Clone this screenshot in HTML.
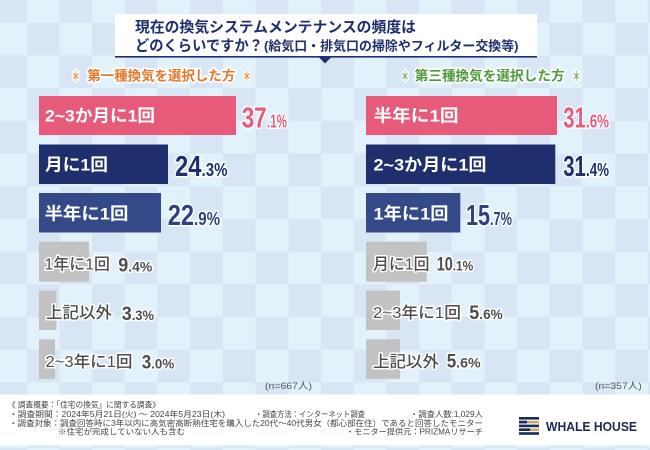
<!DOCTYPE html>
<html lang="ja">
<head>
<meta charset="utf-8">
<style>
html,body{margin:0;padding:0;background:#e1f2fb;}
svg{display:block;}
.t{font-family:"Liberation Sans","Noto Sans CJK JP",sans-serif;}
.o{paint-order:stroke;stroke:#fff;stroke-linejoin:round;}
</style>
</head>
<body>
<svg width="650" height="450" viewBox="0 0 650 450" xmlns="http://www.w3.org/2000/svg">
<defs>
<pattern id="ck" x="26.7" y="22.7" width="65.4" height="65.4" patternUnits="userSpaceOnUse">
<rect width="65.4" height="65.4" fill="#e1f2fb"/>
<rect width="32.7" height="32.7" fill="#d8e5f5"/>
<rect x="32.7" y="32.7" width="32.7" height="32.7" fill="#d8e5f5"/>
</pattern>
</defs>
<rect width="650" height="450" fill="url(#ck)"/>

<!-- Title box -->
<rect x="115" y="14" width="422" height="43" fill="#ffffff"/>
<rect x="115" y="56" width="422" height="1.6" fill="#1f2f6e"/>
<polygon points="318.5,57 331.5,57 325,63.5" fill="#1f2f6e"/>
<text class="t" x="135" y="32" font-size="14.8" font-weight="600" fill="#1f2f6e" textLength="281" lengthAdjust="spacingAndGlyphs">現在の換気システムメンテナンスの頻度は</text>
<text class="t" x="135" y="50.5" font-size="14.8" font-weight="600" fill="#1f2f6e" textLength="128" lengthAdjust="spacingAndGlyphs">どのくらいですか？</text>
<text class="t" x="264" y="50.5" font-size="13" font-weight="600" fill="#1f2f6e" textLength="254.5" lengthAdjust="spacingAndGlyphs">(給気口・排気口の掃除やフィルター交換等)</text>

<!-- Subheadings -->
<g class="t o" font-weight="bold" stroke-width="3.5">
<text x="71.5" y="81.5" font-size="14" fill="#ee9046" textLength="8.5" lengthAdjust="spacingAndGlyphs">＊</text>
<text x="87.3" y="80.5" font-size="13.5" fill="#e8772a" textLength="148" lengthAdjust="spacingAndGlyphs">第一種換気を選択した方</text>
<text x="243" y="81.5" font-size="14" fill="#ee9046" textLength="8" lengthAdjust="spacingAndGlyphs">＊</text>
<text x="401" y="81.5" font-size="14" fill="#78b25a" textLength="8" lengthAdjust="spacingAndGlyphs">＊</text>
<text x="414.6" y="80.5" font-size="13.5" fill="#4f9a3c" textLength="150" lengthAdjust="spacingAndGlyphs">第三種換気を選択した方</text>
<text x="572.5" y="81.5" font-size="14" fill="#78b25a" textLength="8" lengthAdjust="spacingAndGlyphs">＊</text>
</g>

<!-- Left bars -->
<rect x="39" y="96" width="197" height="39" fill="#e65b7a"/>
<rect x="39" y="144.5" width="129" height="39.5" fill="#1f2f6e"/>
<rect x="39" y="193" width="122" height="39.5" fill="#344a88"/>
<rect x="39" y="241.7" width="50" height="40" fill="#c2c2c2"/>
<rect x="39" y="290.5" width="17.5" height="39.5" fill="#c2c2c2"/>
<rect x="39" y="339.3" width="16" height="39.5" fill="#c2c2c2"/>

<!-- Right bars -->
<rect x="366" y="96" width="191" height="39" fill="#e65b7a"/>
<rect x="366" y="144.5" width="189.3" height="39.5" fill="#1f2f6e"/>
<rect x="366" y="193" width="94.3" height="39.5" fill="#344a88"/>
<rect x="366" y="241.7" width="60.7" height="40" fill="#c2c2c2"/>
<rect x="366" y="290.5" width="34" height="39.5" fill="#c2c2c2"/>
<rect x="366" y="339.3" width="34" height="39.5" fill="#c2c2c2"/>

<!-- In-bar labels (white) -->
<g class="t" font-size="17" font-weight="bold" fill="#ffffff">
<text x="45" y="121.5" textLength="110" lengthAdjust="spacingAndGlyphs">2~3か月に1回</text>
<text x="45" y="170.5" textLength="63" lengthAdjust="spacingAndGlyphs">月に1回</text>
<text x="44.5" y="219.5" textLength="84" lengthAdjust="spacingAndGlyphs">半年に1回</text>
<text x="373.5" y="121.5" textLength="85" lengthAdjust="spacingAndGlyphs">半年に1回</text>
<text x="373.5" y="170.5" textLength="113" lengthAdjust="spacingAndGlyphs">2~3か月に1回</text>
<text x="373.5" y="219.5" textLength="75" lengthAdjust="spacingAndGlyphs">1年に1回</text>
</g>

<!-- Gray labels -->
<g class="t o" font-size="16" font-weight="500" fill="#4d4d4d" stroke-width="3">
<text x="44.5" y="269.5" textLength="65.5" lengthAdjust="spacingAndGlyphs">1年に1回</text>
<text x="46" y="318" textLength="66" lengthAdjust="spacingAndGlyphs">上記以外</text>
<text x="45.5" y="367" textLength="87" lengthAdjust="spacingAndGlyphs">2~3年に1回</text>
<text x="373" y="269.5" textLength="56.5" lengthAdjust="spacingAndGlyphs">月に1回</text>
<text x="373" y="318" textLength="88" lengthAdjust="spacingAndGlyphs">2~3年に1回</text>
<text x="373" y="367" textLength="66" lengthAdjust="spacingAndGlyphs">上記以外</text>
</g>

<!-- Big percentages -->
<g class="t o" font-weight="bold" stroke-width="3">
<text x="241.7" y="127.3" font-size="29" fill="#e65b7a" textLength="25" lengthAdjust="spacingAndGlyphs">37</text>
<text x="267" y="127.3" font-size="18.5" fill="#e65b7a" textLength="20" lengthAdjust="spacingAndGlyphs">.1%</text>
<text x="175" y="176" font-size="29" fill="#1f2f6e" textLength="26.5" lengthAdjust="spacingAndGlyphs">24</text>
<text x="201.5" y="176" font-size="18.5" fill="#1f2f6e" textLength="26" lengthAdjust="spacingAndGlyphs">.3%</text>
<text x="167.7" y="225" font-size="29" fill="#2e4282" textLength="26.3" lengthAdjust="spacingAndGlyphs">22</text>
<text x="194" y="225" font-size="18.5" fill="#2e4282" textLength="26" lengthAdjust="spacingAndGlyphs">.9%</text>

<text x="563.3" y="127.3" font-size="29" fill="#e65b7a" textLength="22.5" lengthAdjust="spacingAndGlyphs">31</text>
<text x="586" y="127.3" font-size="18.5" fill="#e65b7a" textLength="23" lengthAdjust="spacingAndGlyphs">.6%</text>
<text x="563.3" y="176" font-size="29" fill="#1f2f6e" textLength="22.5" lengthAdjust="spacingAndGlyphs">31</text>
<text x="586" y="176" font-size="18.5" fill="#1f2f6e" textLength="23" lengthAdjust="spacingAndGlyphs">.4%</text>
<text x="466" y="225" font-size="29" fill="#2e4282" textLength="24" lengthAdjust="spacingAndGlyphs">15</text>
<text x="490" y="225" font-size="18.5" fill="#2e4282" textLength="22" lengthAdjust="spacingAndGlyphs">.7%</text>
</g>

<!-- Gray percentages -->
<g class="t o" fill="#4d4d4d" font-weight="bold" stroke-width="3">
<text x="118.3" y="271.7" font-size="19" textLength="10" lengthAdjust="spacingAndGlyphs">9</text>
<text x="128.3" y="271.7" font-size="13.5" textLength="24" lengthAdjust="spacingAndGlyphs">.4%</text>
<text x="121.7" y="320" font-size="19" textLength="10" lengthAdjust="spacingAndGlyphs">3</text>
<text x="131.7" y="320" font-size="13.5" textLength="22.3" lengthAdjust="spacingAndGlyphs">.3%</text>
<text x="141.7" y="368.3" font-size="19" textLength="9.5" lengthAdjust="spacingAndGlyphs">3</text>
<text x="151.2" y="368.3" font-size="13.5" textLength="23" lengthAdjust="spacingAndGlyphs">.0%</text>

<text x="436.7" y="270.7" font-size="19" textLength="16" lengthAdjust="spacingAndGlyphs">10</text>
<text x="452.7" y="270.7" font-size="13.5" textLength="20.6" lengthAdjust="spacingAndGlyphs">.1%</text>
<text x="469.3" y="319" font-size="19" textLength="10" lengthAdjust="spacingAndGlyphs">5</text>
<text x="479.3" y="319" font-size="13.5" textLength="23.4" lengthAdjust="spacingAndGlyphs">.6%</text>
<text x="446.7" y="367.3" font-size="19" textLength="9.5" lengthAdjust="spacingAndGlyphs">5</text>
<text x="456.2" y="367.3" font-size="13.5" textLength="24.5" lengthAdjust="spacingAndGlyphs">.6%</text>
</g>

<!-- n labels -->
<text class="t" x="265" y="389" font-size="9.5" fill="#555555" textLength="47" lengthAdjust="spacingAndGlyphs">(n=667人)</text>
<text class="t" x="595" y="389" font-size="9.5" fill="#555555" textLength="46.7" lengthAdjust="spacingAndGlyphs">(n=357人)</text>

<!-- Footer -->
<rect x="0" y="394.5" width="650" height="51" fill="#ffffff"/>
<g class="t" font-size="8" fill="#444444">
<text x="8" y="407.5" textLength="152" lengthAdjust="spacingAndGlyphs">《 調査概要：「住宅の換気」に関する調査》</text>
<text x="9" y="417" textLength="216" lengthAdjust="spacingAndGlyphs">・調査期間：2024年5月21日(火) ～ 2024年5月23日(木)</text>
<text x="255" y="417" textLength="110" lengthAdjust="spacingAndGlyphs">・調査方法：インターネット調査</text>
<text x="410" y="417" textLength="73" lengthAdjust="spacingAndGlyphs">・調査人数:1,029人</text>
<text x="9" y="426" textLength="474" lengthAdjust="spacingAndGlyphs">・調査対象：調査回答時に3年以内に高気密高断熱住宅を購入した20代～40代男女（都心部在住）であると回答したモニター</text>
<text x="58" y="434.5" textLength="127" lengthAdjust="spacingAndGlyphs">※住宅が完成していない人も含む</text>
<text x="346" y="434.5" textLength="137" lengthAdjust="spacingAndGlyphs">・モニター提供元：PRIZMAリサーチ</text>
</g>

<!-- Logo -->
<g>
<rect x="519" y="417" width="20" height="2.6" fill="#1a2a55"/>
<rect x="519" y="420.8" width="20" height="2.6" fill="#c9a96a"/>
<rect x="519" y="424.6" width="20" height="2.6" fill="#1a2a55"/>
<rect x="519" y="428.4" width="20" height="2.6" fill="#c9a96a"/>
<rect x="519" y="432.2" width="20" height="2.6" fill="#1a2a55"/>
<rect x="519" y="420.8" width="8" height="2.6" fill="#1a2a55"/>
<rect x="519" y="428.4" width="11" height="2.6" fill="#1a2a55"/>
</g>
<text class="t" x="546" y="431" font-size="12.5" font-weight="bold" fill="#1a2a55" textLength="91" lengthAdjust="spacingAndGlyphs">WHALE HOUSE</text>
</svg>
</body>
</html>
